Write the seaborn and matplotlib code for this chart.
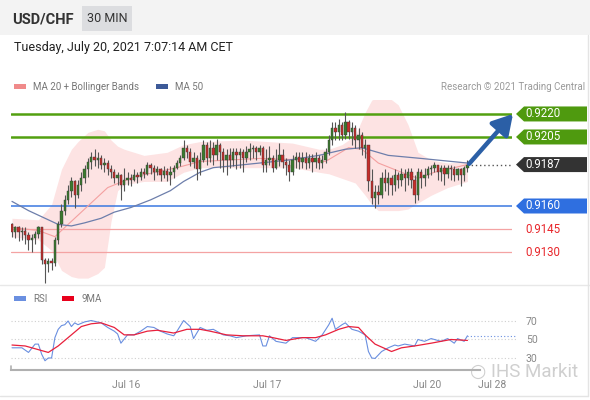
import numpy as np
import pandas as pd
import matplotlib
matplotlib.use("Agg")
import matplotlib.pyplot as plt
from matplotlib.patches import Rectangle, Polygon
import seaborn as sns

# USD/CHF 30 min candles
first_open = 0.9148
close = [
    0.9143, 0.9146, 0.9143, 0.9144, 0.9141, 0.9138, 0.9139, 0.9142, 0.9146, 0.9125,
    0.9122, 0.9124, 0.9123, 0.9138, 0.9148, 0.9157, 0.9164, 0.9170, 0.9176, 0.9167,
    0.9174, 0.9178, 0.9184, 0.9189, 0.9192, 0.9190, 0.9191, 0.9187, 0.9188, 0.9184,
    0.9182, 0.9178, 0.9180, 0.9174, 0.9177, 0.9178, 0.9177, 0.9180, 0.9179, 0.9182,
    0.9181, 0.9187, 0.9185, 0.9182, 0.9184, 0.9180, 0.9183, 0.9180, 0.9182, 0.9185,
    0.9188, 0.9191, 0.9198, 0.9195, 0.9189, 0.9191, 0.9184, 0.9190, 0.9200, 0.9191,
    0.9198, 0.9193, 0.9200, 0.9195, 0.9190, 0.9193, 0.9190, 0.9195, 0.9193, 0.9195,
    0.9191, 0.9195, 0.9197, 0.9198, 0.9195, 0.9198, 0.9187, 0.9190, 0.9191, 0.9185,
    0.9190, 0.9193, 0.9189, 0.9187, 0.9182, 0.9190, 0.9192, 0.9189, 0.9191, 0.9188,
    0.9191, 0.9189, 0.9191, 0.9188, 0.9190, 0.9195, 0.9203, 0.9211, 0.9208, 0.9213,
    0.9206, 0.9215, 0.9208, 0.9211, 0.9203, 0.9206, 0.9198, 0.9200, 0.9176, 0.9165,
    0.9169, 0.9167, 0.9178, 0.9175, 0.9178, 0.9174, 0.9180, 0.9177, 0.9181, 0.9178,
    0.9182, 0.9177, 0.9167, 0.9182, 0.9178, 0.9180, 0.9184, 0.9185, 0.9187, 0.9182,
    0.9185, 0.9181, 0.9185, 0.9184, 0.9180, 0.9184, 0.9180, 0.9185, 0.9187]
high = [
    0.9149, 0.9147, 0.9147, 0.9146, 0.9146, 0.9143, 0.9142, 0.9144, 0.9147, 0.9146,
    0.9126, 0.9126, 0.9126, 0.9140, 0.9150, 0.9161, 0.9167, 0.9174, 0.9179, 0.9177,
    0.9177, 0.9182, 0.9187, 0.9191, 0.9195, 0.9197, 0.9195, 0.9193, 0.9191, 0.9190,
    0.9187, 0.9184, 0.9182, 0.9181, 0.9185, 0.9182, 0.9181, 0.9184, 0.9182, 0.9185,
    0.9185, 0.9189, 0.9188, 0.9187, 0.9186, 0.9185, 0.9186, 0.9185, 0.9186, 0.9187,
    0.9190, 0.9193, 0.9203, 0.9200, 0.9198, 0.9195, 0.9193, 0.9195, 0.9203, 0.9202,
    0.9203, 0.9202, 0.9204, 0.9201, 0.9198, 0.9197, 0.9198, 0.9198, 0.9198, 0.9198,
    0.9197, 0.9199, 0.9201, 0.9200, 0.9199, 0.9200, 0.9199, 0.9197, 0.9199, 0.9193,
    0.9197, 0.9201, 0.9197, 0.9191, 0.9190, 0.9193, 0.9195, 0.9195, 0.9195, 0.9195,
    0.9194, 0.9194, 0.9195, 0.9193, 0.9193, 0.9198, 0.9206, 0.9215, 0.9215, 0.9217,
    0.9215, 0.9221, 0.9216, 0.9215, 0.9213, 0.9211, 0.9208, 0.9204, 0.9200, 0.9184,
    0.9174, 0.9174, 0.9182, 0.9184, 0.9182, 0.9180, 0.9184, 0.9182, 0.9185, 0.9184,
    0.9185, 0.9185, 0.9180, 0.9185, 0.9184, 0.9185, 0.9186, 0.9187, 0.9189, 0.9187,
    0.9187, 0.9187, 0.9187, 0.9187, 0.9186, 0.9185, 0.9185, 0.9186, 0.9190]
low = [
    0.9140, 0.9139, 0.9137, 0.9138, 0.9135, 0.9131, 0.9130, 0.9135, 0.9139, 0.9122,
    0.9110, 0.9117, 0.9118, 0.9121, 0.9135, 0.9146, 0.9154, 0.9161, 0.9166, 0.9159,
    0.9165, 0.9170, 0.9175, 0.9179, 0.9184, 0.9186, 0.9185, 0.9184, 0.9182, 0.9180,
    0.9178, 0.9175, 0.9174, 0.9164, 0.9170, 0.9174, 0.9173, 0.9176, 0.9175, 0.9177,
    0.9178, 0.9180, 0.9181, 0.9177, 0.9180, 0.9176, 0.9178, 0.9176, 0.9174, 0.9178,
    0.9184, 0.9186, 0.9190, 0.9191, 0.9186, 0.9185, 0.9177, 0.9180, 0.9189, 0.9187,
    0.9189, 0.9187, 0.9190, 0.9185, 0.9182, 0.9180, 0.9185, 0.9186, 0.9184, 0.9185,
    0.9182, 0.9189, 0.9190, 0.9191, 0.9190, 0.9193, 0.9182, 0.9182, 0.9187, 0.9182,
    0.9184, 0.9186, 0.9185, 0.9180, 0.9176, 0.9180, 0.9185, 0.9184, 0.9185, 0.9184,
    0.9185, 0.9182, 0.9185, 0.9184, 0.9185, 0.9188, 0.9193, 0.9200, 0.9203, 0.9203,
    0.9203, 0.9204, 0.9204, 0.9200, 0.9198, 0.9197, 0.9193, 0.9191, 0.9170, 0.9161,
    0.9159, 0.9161, 0.9165, 0.9170, 0.9167, 0.9167, 0.9170, 0.9172, 0.9173, 0.9170,
    0.9174, 0.9172, 0.9162, 0.9164, 0.9172, 0.9173, 0.9178, 0.9180, 0.9182, 0.9177,
    0.9176, 0.9174, 0.9178, 0.9177, 0.9176, 0.9177, 0.9173, 0.9176, 0.9182]

# indicators, sampled at candle index
ma50_idx = [0, 5, 10, 14, 18, 22, 27, 31, 36, 42, 48, 52, 57, 61, 66, 75, 84, 93, 101, 106, 114, 124, 138]
ma50 = [0.9163, 0.9157, 0.9152, 0.9148, 0.9147, 0.9149, 0.9152, 0.9156, 0.9159, 0.9164, 0.9170, 0.9176,
        0.9182, 0.9185, 0.9186, 0.9188, 0.9190, 0.9193, 0.9197, 0.9198, 0.9193, 0.9191, 0.9188]
ma20_idx = [0, 8, 13, 20, 29, 37, 50, 57, 75, 90, 95, 102, 106, 111, 118, 123, 128, 138]
ma20 = [0.9146, 0.9144, 0.9140, 0.9154, 0.9172, 0.9179, 0.9185, 0.9189, 0.9191, 0.9190, 0.9189, 0.9198,
        0.9197, 0.9188, 0.9182, 0.9178, 0.9182, 0.9187]
band_idx = [0, 8, 12, 15, 18, 20, 23, 26, 28, 30, 32, 34, 40, 47, 52, 57, 70, 85, 93, 96, 100, 104,
            107, 109, 111, 114, 117, 120, 123, 127, 132, 138]
band_up = [0.9152, 0.9151, 0.9161, 0.9184, 0.9197, 0.9202, 0.9208, 0.9210, 0.9209, 0.9203, 0.9199,
           0.9197, 0.9193, 0.9195, 0.9200, 0.9202, 0.9203, 0.9201, 0.9197, 0.9197, 0.9200, 0.9206,
           0.9221, 0.9229, 0.9231, 0.9231, 0.9226, 0.9213, 0.9195, 0.9190, 0.9188, 0.9189]
band_lo = [0.9140, 0.9138, 0.9131, 0.9118, 0.9114, 0.9113, 0.9113, 0.9116, 0.9120, 0.9150, 0.9170,
           0.9174, 0.9176, 0.9176, 0.9182, 0.9185, 0.9185, 0.9185, 0.9182, 0.9181, 0.9178, 0.9175,
           0.9167, 0.9161, 0.9157, 0.9157, 0.9157, 0.9158, 0.9162, 0.9167, 0.9172, 0.9176]

rsi_idx = [0, 3, 5, 7, 8, 9, 10, 11, 12, 13, 14, 15, 16, 17, 18, 19, 20, 22, 24, 27, 29, 31, 32, 33,
           35, 37, 39, 41, 43, 45, 47, 49, 50, 52, 54, 55, 57, 59, 61, 64, 66, 68, 71, 75, 76, 77,
           78, 80, 83, 85, 89, 92, 94, 96, 97, 98, 100, 101, 103, 105, 107, 108, 109, 110, 112,
           114, 116, 117, 119, 122, 123, 125, 127, 130, 132, 134, 135, 137, 138]
rsi = [41, 41, 36, 45, 45, 34, 27, 30, 30, 52, 61, 65, 66, 70, 64, 68, 66, 69, 70.5, 68, 63, 59, 56,
       46, 55, 55, 59, 64, 63, 59, 56, 54, 59, 70.5, 64, 51, 63, 60, 61, 55, 54, 52, 54, 55, 43, 43,
       54, 48, 46, 52, 52, 48, 55, 66, 73, 61, 66, 68, 61, 59, 55, 37, 30, 29.5, 37, 41, 44, 43, 45,
       43, 50, 48, 51, 48, 51, 46, 51, 48, 54]
ma9_idx = [0, 4, 8, 11, 14, 18, 21, 24, 27, 31, 34, 37, 41, 44, 49, 53, 57, 60, 65, 70, 76, 79, 83,
           88, 92, 95, 99, 102, 105, 107, 110, 115, 118, 122, 127, 133, 138]
ma9 = [44, 43, 39, 36, 43, 55, 64, 67, 68, 63, 55, 55, 59, 60, 57, 61, 61, 59, 55, 54, 54, 52, 49,
       52, 52, 55, 61, 64, 63, 55, 45, 37, 41, 43, 46, 50, 49]

levels = [0.9220, 0.9205, 0.9187, 0.9160, 0.9145, 0.9130]
level_kind = ["res", "res", "last", "sup", "tgt", "tgt"]
time_labels = ["Jul 16", "Jul 17", "Jul 20", "Jul 28"]
time_pos = [34.5, 77.3, 125.8, 145.5]

sns.set_theme(style="white")
plt.rcParams["font.family"] = ["Roboto", "DejaVu Sans"]

W, H = 590, 400
fig = plt.figure(figsize=(W / 100, H / 100), dpi=100)

# overlay in pixel coords for the frame / header / labels
ov = fig.add_axes([0, 0, 1, 1])
ov.set_xlim(0, W)
ov.set_ylim(H, 0)
ov.axis("off")
ov.add_patch(Rectangle((0, 0), W, 35, color="#f3f3f3", lw=0))
ov.add_patch(Rectangle((82, 6), 50, 25, color="#dcdde0", lw=0))
ov.text(12, 19, "USD/CHF", fontsize=10.5, fontweight="bold", color="#333333", va="center")
ov.text(107, 19, "30 MIN", fontsize=9, color="#333333", va="center", ha="center")
ov.text(14, 48, "Tuesday, July 20, 2021 7:07:14 AM CET", fontsize=9, color="#222222", va="center")
ov.add_patch(Rectangle((14, 84), 12, 5, color="#f08a8a", lw=0))
ov.text(33, 86.5, "MA 20 + Bollinger Bands", fontsize=7, color="#777777", va="center")
ov.add_patch(Rectangle((156, 84), 12, 5, color="#3d5a98", lw=0))
ov.text(175, 86.5, "MA 50", fontsize=7, color="#777777", va="center")
ov.text(585, 86.5, "Research © 2021 Trading Central", fontsize=7, color="#9a9a9a", va="center", ha="right")
ov.plot([0, W], [285, 285], color="#e8e8e8", lw=1)
ov.plot([588, 588], [35, 396], color="#e4e4e4", lw=1)
ov.plot([0, 588], [396, 396], color="#e4e4e4", lw=1)
ov.add_patch(Rectangle((14, 296), 12, 5, color="#6a8fe0", lw=0))
ov.text(33, 298.5, "RSI", fontsize=7, color="#777777", va="center")
ov.add_patch(Rectangle((62, 296), 12, 5, color="#e8001c", lw=0))
ov.text(82, 298.5, "9MA", fontsize=7, color="#777777", va="center")
ov.text(470, 372, "○ IHS Markit", fontsize=13.5, color="#cfcfcf", va="center")

# main price panel
ytop, ybot = 0.92291, 0.91085
xl = (-0.3, 151.5)
ax = fig.add_axes([11 / W, 1 - 285 / H, 501 / W, 185 / H])
ax.set_facecolor("none")
ax.set_xlim(*xl)
ax.set_ylim(ybot, ytop)
ax.axis("off")

ax.fill_between(band_idx, band_lo, band_up, color="#fde3e3", lw=0, zorder=1)
sns.lineplot(x=ma20_idx, y=ma20, ax=ax, color="#f4a0a0", lw=0.8, zorder=2)
sns.lineplot(x=ma50_idx, y=ma50, ax=ax, color="#6d7eab", lw=0.9, zorder=2)

line_col = {"res": ("#52a010", 1.8), "sup": ("#3a78e0", 1.1), "tgt": ("#f4a3a3", 0.9)}
for lv, kind in zip(levels, level_kind):
    if kind in line_col:
        c, w = line_col[kind]
        ax.axhline(lv, color=c, lw=w, zorder=1.5)

df = pd.DataFrame({"close": close, "high": high, "low": low})
df["open"] = [first_open] + close[:-1]
df["idx"] = np.arange(len(df))
df["high"] = df[["high", "open", "close"]].max(axis=1)
df["low"] = df[["low", "open", "close"]].min(axis=1)
up = df["close"] >= df["open"]
ax.vlines(df["idx"], df["low"], df["high"], color="#555555", lw=0.8, zorder=3)
body = (df["close"] - df["open"]).abs().clip(lower=0.00005)
ax.bar(df["idx"], body, bottom=df[["open", "close"]].min(axis=1), width=0.72,
       color=np.where(up, "#3b7a2e", "#c62d2a"), edgecolor="#3a3a3a", linewidth=0.3, zorder=4)

last = len(df) - 1
ax.plot([last, xl[1]], [close[-1]] * 2, color="#555555", lw=1, ls=(0, (1, 2)), zorder=3, clip_on=False)
ax.annotate("", xy=(151.8, levels[0]), xytext=(last + 0.5, close[-1] + 0.00005),
            arrowprops=dict(arrowstyle="-|>,head_length=0.6,head_width=0.35", color="#2b5fa6",
                            lw=3.2, mutation_scale=20, shrinkA=0, shrinkB=0),
            annotation_clip=False, zorder=6)


def py(p):
    return 100 + (ytop - p) / (ytop - ybot) * 185


box_col = {"res": "#4f9a0f", "last": "#333333", "sup": "#2f6fe0"}
for lv, kind in zip(levels, level_kind):
    y = py(lv)
    if kind in box_col:
        ov.add_patch(Polygon([(516, y), (524, y - 7.5), (587, y - 7.5), (587, y + 7.5), (524, y + 7.5)],
                             closed=True, color=box_col[kind], lw=0))
        ov.text(525, y, f"{lv:.4f}", fontsize=8.3, color="white", va="center")
    else:
        ov.text(525, y, f"{lv:.4f}", fontsize=8.3, color="#e8262b", va="center")

# RSI panel
rax = fig.add_axes([11 / W, 1 - 370 / H, 501 / W, 65 / H])
rax.set_facecolor("none")
rax.set_xlim(*xl)
rax.set_ylim(17, 87.3)
for g in (30, 50, 70):
    rax.axhline(g, xmin=0, xmax=1.01, color="#cfcfcf", lw=0.8, ls=(0, (1, 2)), clip_on=False)
sns.lineplot(x=rsi_idx, y=rsi, ax=rax, color="#6a8fe0", lw=0.8)
sns.lineplot(x=ma9_idx, y=ma9, ax=rax, color="#e8203c", lw=0.9)
rax.plot([rsi_idx[-1], 152.5], [rsi[-1]] * 2, color="#6a8fe0", lw=0.8, ls=(0, (1, 2)), clip_on=False)
for s in ("top", "left", "right"):
    rax.spines[s].set_visible(False)
rax.spines["bottom"].set_color("#b0b0b0")
rax.spines["bottom"].set_linewidth(1.5)
rax.spines["bottom"].set_bounds(-0.3, 141.8)
rax.set_xticks(time_pos)
rax.set_xticklabels(time_labels, fontsize=7.5, color="#888888")
rax.set_yticks([30, 50, 70])
rax.set_yticklabels(["30", "50", "70"], fontsize=7.5, color="#888888")
rax.yaxis.tick_right()
rax.tick_params(axis="both", length=0)
rax.tick_params(axis="x", pad=7)
rax.tick_params(axis="y", pad=10)
rax.set_xlabel("")
rax.set_ylabel("")
ov.plot([11, 11], [366, 370], color="#b0b0b0", lw=1.2)

fig.savefig("out.png", dpi=100)
